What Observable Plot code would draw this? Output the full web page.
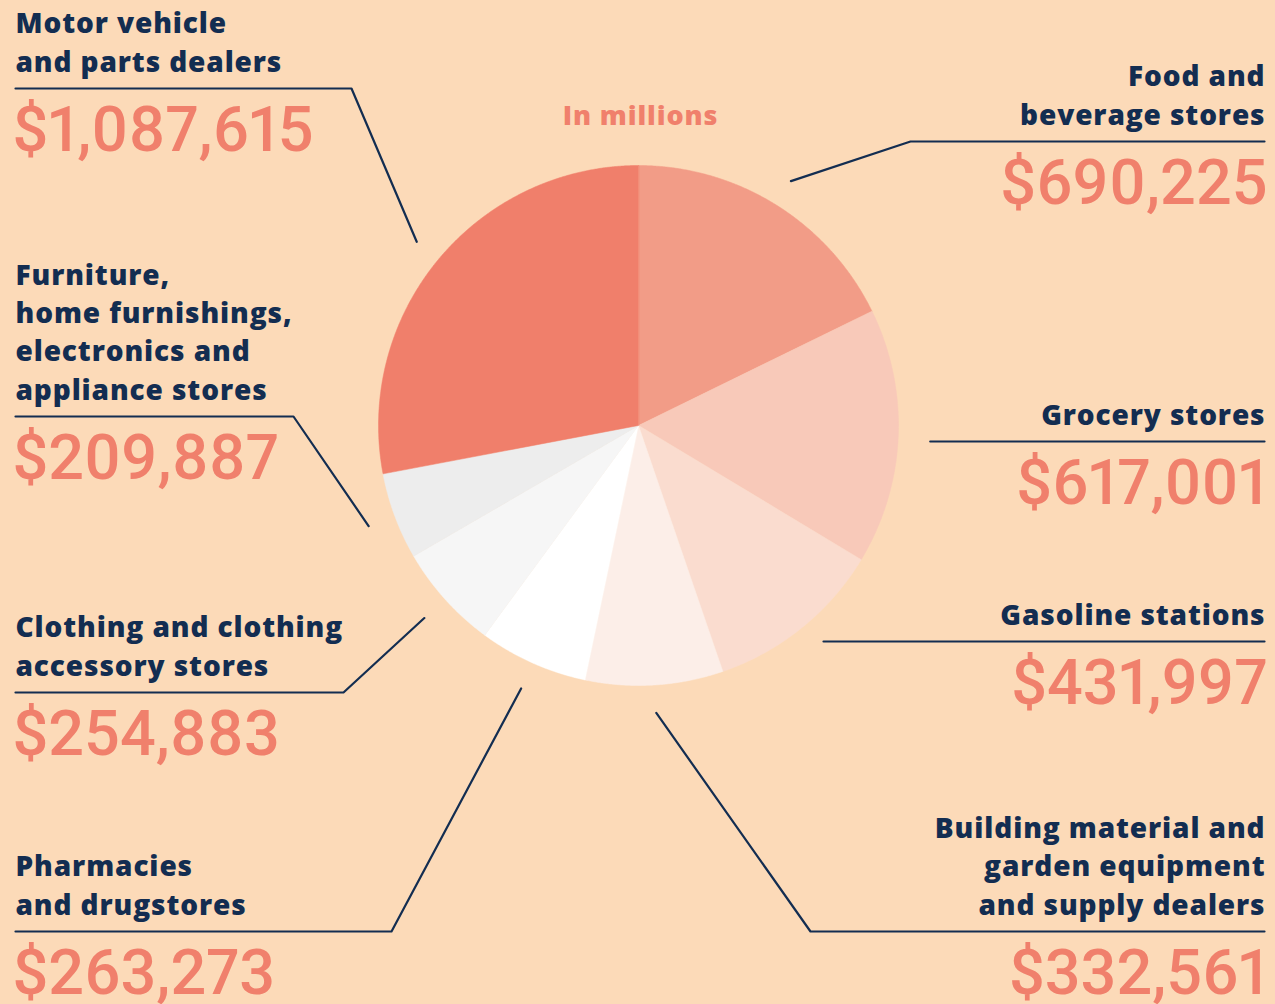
<!DOCTYPE html>
<html><head><meta charset="utf-8">
<script src="https://cdn.jsdelivr.net/npm/d3@7"></script>
<script src="https://cdn.jsdelivr.net/npm/@observablehq/plot@0.6"></script>
<style>
html,body{margin:0;padding:0;background:#FCDAB8;}
#chart svg{display:block}
</style></head><body><div id="chart"></div>
<script>
// ---- data (clockwise from 12 o'clock) ----
const categories = [
  "Food and beverage stores",
  "Grocery stores",
  "Gasoline stations",
  "Building material and garden equipment and supply dealers",
  "Pharmacies and drugstores",
  "Clothing and clothing accessory stores",
  "Furniture, home furnishings, electronics and appliance stores",
  "Motor vehicle and parts dealers"
];
const labelLines = [
  "Food and\nbeverage stores",
  "Grocery stores",
  "Gasoline stations",
  "Building material and\ngarden equipment\nand supply dealers",
  "Pharmacies\nand drugstores",
  "Clothing and clothing\naccessory stores",
  "Furniture,\nhome furnishings,\nelectronics and\nappliance stores",
  "Motor vehicle\nand parts dealers"
];
const values = [690225, 617001, 431997, 332561, 263273, 254883, 209887, 1087615];
const unitNote = "In millions";

// ---- style / layout ----
const palette = ["#F29C87", "#F8C9B9", "#FADCCF", "#FCEEE8", "#FFFFFF", "#F6F6F6", "#EDEDED", "#F07F6B"];
const NAVY = "#132D51", SALMON = "#F0806C", BG = "#FCDAB8";
const W = 1275, H = 1004, CX = 638, CY = 425, R = 260, LR = 288;
const LEFT = 15, RIGHT = 1265;
// elbowX null: the leader runs straight along the underline
const layout = [
  {side: "right", lineY: 141, elbowX: 910},
  {side: "right", lineY: 441, elbowX: null},
  {side: "right", lineY: 641, elbowX: null},
  {side: "right", lineY: 931, elbowX: 810},
  {side: "left",  lineY: 931, elbowX: 391},
  {side: "left",  lineY: 692, elbowX: 343},
  {side: "left",  lineY: 416, elbowX: 293},
  {side: "left",  lineY: 88,  elbowX: 351}
];

const arcs = d3.pie().sort(null).value(d => d)(values);
const idx = d3.range(values.length);

const sliceMarks = arcs.map((a, i) => {
  const pts = [{x: CX, y: CY}];
  const n = Math.max(4, Math.ceil((a.endAngle - a.startAngle) / (Math.PI / 720)));
  for (let j = 0; j <= n; j++) {
    const t = a.startAngle + (a.endAngle - a.startAngle) * j / n;
    pts.push({x: CX + R * Math.sin(t), y: CY - R * Math.cos(t)});
  }
  return Plot.line(pts, {x: "x", y: "y", fill: palette[i], stroke: palette[i], strokeWidth: 0.5, curve: "linear-closed"});
});

const leaderPts = [];
arcs.forEach((a, i) => {
  const m = (a.startAngle + a.endAngle) / 2;
  const L = layout[i];
  const sx = CX + LR * Math.sin(m), sy = CY - LR * Math.cos(m);
  if (L.elbowX == null) {
    leaderPts.push({k: i, x: sx + 4, y: L.lineY});
  } else {
    leaderPts.push({k: i, x: sx, y: sy});
    leaderPts.push({k: i, x: L.elbowX, y: L.lineY});
  }
  leaderPts.push({k: i, x: L.side === "left" ? LEFT : RIGHT - 1, y: L.lineY});
});

const fmt = d3.format("$,");
const leftIdx = idx.filter(i => layout[i].side === "left");
const rightIdx = idx.filter(i => layout[i].side === "right");

const labelOpts = (anchor, xpos) => ({
  x: () => xpos, y: i => layout[i].lineY - 17, text: i => labelLines[i],
  textAnchor: anchor, lineAnchor: "bottom", lineHeight: 1.36,
  fontSize: 28, fontWeight: 800, fill: NAVY, fontFamily: "'Open Sans', sans-serif",
  className: "lbl"
});
const numOpts = (anchor, xpos) => ({
  x: () => xpos, y: i => layout[i].lineY + 62, text: i => fmt(values[i]),
  textAnchor: anchor, lineAnchor: "bottom",
  fontSize: 63, fontWeight: 500, fill: SALMON, fontFamily: "Roboto, sans-serif",
  className: "num"
});

const chart = Plot.plot({
  width: W, height: H, margin: 0,
  x: {domain: [0, W], range: [0, W], axis: null},
  y: {domain: [0, H], range: [0, H], axis: null},
  style: {background: BG, fontFamily: "'Open Sans', sans-serif"},
  marks: [
    ...sliceMarks,
    Plot.line(leaderPts, {x: "x", y: "y", z: "k", stroke: NAVY, strokeWidth: 2.2}),
    Plot.text(leftIdx, labelOpts("start", LEFT)),
    Plot.text(rightIdx, labelOpts("end", RIGHT)),
    Plot.text(leftIdx, numOpts("start", LEFT - 3)),
    Plot.text(rightIdx, numOpts("end", RIGHT + 2)),
    Plot.text([unitNote], {x: () => CX + 2, y: () => 124, text: d => d, textAnchor: "middle", lineAnchor: "bottom",
      fontSize: 27, fontWeight: 800, fill: SALMON, fontFamily: "'Open Sans', sans-serif", className: "lbl"})
  ]
});
d3.select(chart).selectAll(".lbl text").style("letter-spacing", "0.9px");
d3.select(chart).selectAll(".num text")
  .style("font-variant-numeric", "proportional-nums")
  .style("font-feature-settings", "'pnum' 1");
document.getElementById("chart").appendChild(chart);
</script>
</body></html>
